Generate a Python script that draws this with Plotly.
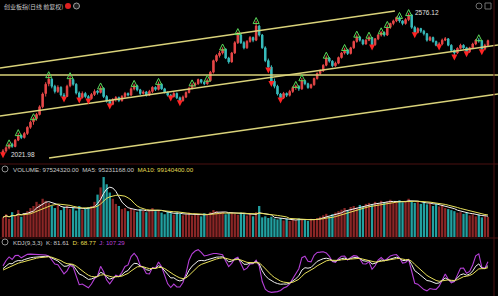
import plotly.graph_objects as go
import pandas as pd
import numpy as np

# ---------------- data ----------------
open_ = [2028, 2038, 2050, 2064, 2055, 2080, 2098, 2090, 2106, 2130,
         2152, 2164, 2180, 2210, 2262, 2300, 2318, 2290, 2270, 2286,
         2256, 2250, 2292, 2316, 2298, 2264, 2246, 2262, 2250, 2242,
         2258, 2272, 2266, 2282, 2250, 2232, 2220, 2238, 2246, 2234,
         2250, 2262, 2256, 2280, 2292, 2276, 2262, 2268, 2256, 2270,
         2286, 2278, 2298, 2280, 2266, 2255, 2250, 2262, 2245, 2234,
         2248, 2266, 2282, 2295, 2300, 2316, 2306, 2300, 2312, 2345,
         2390, 2410, 2420, 2435, 2400, 2385, 2420, 2460, 2490, 2460,
         2440, 2465, 2480, 2470, 2525, 2490, 2440, 2390, 2365, 2310,
         2290, 2260, 2245, 2262, 2255, 2270, 2285, 2290, 2280, 2312,
         2300, 2285, 2296, 2320, 2340, 2350, 2372, 2400, 2388, 2370,
         2380, 2402, 2420, 2432, 2418, 2440, 2465, 2482, 2470, 2455,
         2470, 2480, 2452, 2475, 2490, 2500, 2490, 2520, 2535, 2545,
         2558, 2545, 2535, 2550, 2568, 2520, 2500, 2515, 2505, 2495,
         2470, 2480, 2465, 2450, 2455, 2470, 2475, 2450, 2430, 2420,
         2438, 2450, 2440, 2425, 2440, 2455, 2470, 2468, 2435, 2450]
close = [2038, 2050, 2062, 2056, 2080, 2098, 2090, 2106, 2130, 2150,
         2164, 2180, 2210, 2260, 2298, 2318, 2290, 2270, 2286, 2256,
         2250, 2290, 2316, 2298, 2264, 2246, 2262, 2250, 2242, 2258,
         2270, 2266, 2282, 2250, 2232, 2220, 2238, 2246, 2234, 2250,
         2262, 2256, 2280, 2292, 2276, 2262, 2268, 2256, 2270, 2286,
         2278, 2298, 2280, 2266, 2255, 2250, 2262, 2245, 2234, 2248,
         2266, 2282, 2295, 2300, 2316, 2306, 2300, 2312, 2345, 2390,
         2410, 2420, 2435, 2400, 2385, 2420, 2460, 2490, 2460, 2440,
         2465, 2480, 2470, 2525, 2490, 2440, 2390, 2365, 2310, 2290,
         2260, 2245, 2262, 2255, 2270, 2285, 2290, 2280, 2312, 2300,
         2285, 2296, 2320, 2340, 2350, 2372, 2400, 2388, 2370, 2380,
         2402, 2420, 2432, 2418, 2440, 2465, 2482, 2470, 2455, 2470,
         2480, 2452, 2475, 2490, 2500, 2490, 2520, 2535, 2545, 2558,
         2545, 2535, 2550, 2568, 2520, 2500, 2515, 2505, 2495, 2470,
         2480, 2465, 2450, 2455, 2470, 2475, 2450, 2430, 2420, 2438,
         2450, 2440, 2425, 2440, 2455, 2470, 2468, 2435, 2450, 2468]
high = [2045, 2056, 2068, 2070, 2084, 2108, 2102, 2112, 2134, 2156,
        2170, 2186, 2216, 2266, 2306, 2334, 2322, 2296, 2294, 2290,
        2264, 2296, 2330, 2320, 2302, 2270, 2270, 2268, 2256, 2264,
        2278, 2276, 2290, 2286, 2256, 2240, 2244, 2252, 2250, 2256,
        2268, 2266, 2286, 2300, 2296, 2280, 2274, 2272, 2276, 2290,
        2290, 2308, 2302, 2284, 2270, 2260, 2268, 2266, 2250, 2254,
        2270, 2288, 2302, 2306, 2320, 2318, 2310, 2320, 2350, 2394,
        2415, 2428, 2442, 2438, 2405, 2424, 2466, 2502, 2494, 2466,
        2470, 2486, 2484, 2545, 2530, 2494, 2446, 2398, 2372, 2320,
        2296, 2264, 2268, 2266, 2276, 2290, 2296, 2294, 2322, 2316,
        2304, 2300, 2324, 2344, 2356, 2376, 2410, 2404, 2392, 2386,
        2406, 2424, 2440, 2436, 2444, 2468, 2492, 2486, 2474, 2474,
        2488, 2482, 2478, 2494, 2505, 2504, 2530, 2538, 2550, 2562,
        2565, 2548, 2556, 2576.12, 2572, 2526, 2520, 2518, 2510, 2498,
        2486, 2484, 2468, 2462, 2476, 2482, 2478, 2454, 2434, 2442,
        2456, 2454, 2444, 2444, 2460, 2474, 2478, 2470, 2456, 2472]
low = [2021.98, 2032, 2044, 2050, 2052, 2076, 2084, 2086, 2100, 2124,
       2140, 2156, 2176, 2204, 2250, 2290, 2282, 2262, 2264, 2250,
       2240, 2248, 2286, 2292, 2258, 2236, 2242, 2244, 2232, 2238,
       2252, 2258, 2262, 2244, 2226, 2212, 2216, 2230, 2228, 2230,
       2244, 2250, 2252, 2274, 2270, 2256, 2258, 2250, 2252, 2264,
       2272, 2274, 2276, 2262, 2250, 2244, 2246, 2240, 2225, 2230,
       2244, 2262, 2278, 2288, 2296, 2300, 2294, 2296, 2308, 2340,
       2384, 2402, 2414, 2396, 2378, 2382, 2416, 2455, 2455, 2434,
       2436, 2460, 2462, 2466, 2484, 2436, 2384, 2353, 2300, 2282,
       2254, 2236, 2240, 2248, 2250, 2264, 2276, 2272, 2276, 2294,
       2280, 2280, 2292, 2316, 2334, 2346, 2368, 2382, 2364, 2366,
       2376, 2398, 2414, 2412, 2414, 2436, 2460, 2464, 2450, 2452,
       2466, 2443, 2448, 2470, 2484, 2484, 2486, 2514, 2528, 2540,
       2538, 2528, 2530, 2544, 2514, 2490, 2496, 2498, 2488, 2464,
       2466, 2460, 2446, 2443, 2450, 2466, 2446, 2424, 2404, 2416,
       2434, 2436, 2416, 2420, 2436, 2450, 2460, 2424, 2430, 2446]
# volume in millions of shares
volume = [95, 110, 88, 120, 105, 130, 98, 115, 125, 140,
          150, 170, 160, 185, 175, 165, 150, 140, 155, 130,
          145, 150, 135, 140, 128, 150, 132, 138, 145, 150,
          170, 205, 240, 290, 255, 215, 185, 160, 150, 135,
          140, 125, 138, 130, 122, 135, 128, 120, 132, 140,
          125, 130, 118, 110, 122, 115, 108, 120, 112, 105,
          110, 118, 104, 112, 106, 100, 115, 108, 120, 130,
          125, 118, 122, 110, 116, 120, 112, 108, 118, 110,
          104, 112, 100, 120, 150, 95, 100, 92, 98, 90,
          85, 92, 80, 88, 78, 84, 80, 90, 86, 82,
          78, 88, 84, 92, 98, 105, 112, 100, 110, 118,
          125, 132, 140, 128, 145, 150, 142, 155, 148, 160,
          165, 158, 170, 162, 175, 168, 172, 180, 165, 170,
          178, 168, 175, 185, 170, 165, 172, 160, 168, 158,
          165, 150, 160, 148, 155, 140, 135, 130, 125, 118,
          120, 112, 118, 105, 110, 100, 108, 95, 102, 97.52432]

green_idx = [2, 5, 10, 15, 22, 32, 43, 51, 62, 67, 72, 77, 83, 96, 98, 106,
             112, 116, 120, 124, 126, 130, 133, 156]
red_idx = [0, 20, 25, 28, 35, 55, 58, 87, 88, 91, 121, 135, 143, 148, 152, 157]

# trend lines: (start index, start price, end index, end price)
trend_lines = [
    (-0.98, 2361.3, 128.5, 2583.6),   # upper channel
    (-0.98, 2334.0, 162.3, 2334.0),   # horizontal
    (-0.98, 2174.1, 162.3, 2451.0),   # middle channel
    (15.1, 2010.3, 162.3, 2259.9),    # lower channel
]

title_text = "创业板指(日线 前复权)"
vol_label = ("VOLUME: 97524320.00  MA5: 95231168.00  ", "MA10: 99140400.00")
kdj_label = ("KDJ(9,3,3)  K: 81.61  ", "D: 68.77  ", "J: 107.29")
high_label = "2576.12"
low_label = "2021.98"

# ---------------- derived ----------------
idx = list(range(len(close)))
s_close = pd.Series(close, dtype=float)
s_high = pd.Series(high, dtype=float)
s_low = pd.Series(low, dtype=float)
s_vol = pd.Series(volume, dtype=float)
ma5 = s_vol.rolling(5, min_periods=1).mean()
ma10 = s_vol.rolling(10, min_periods=1).mean()

llv = s_low.rolling(9, min_periods=1).min()
hhv = s_high.rolling(9, min_periods=1).max()
rsv = ((s_close - llv) / (hhv - llv) * 100).fillna(50)
K, D = [], []
k = d = 50.0
for r in rsv:
    k = 2 / 3 * k + r / 3
    d = 2 / 3 * d + k / 3
    K.append(k)
    D.append(d)
K = np.array(K)
D = np.array(D)
J = 3 * K - 2 * D

UP = "#e84848"
DOWN = "#38bcbc"
vol_colors = ["#8a2626" if c >= o else "#22a0a0" for o, c in zip(open_, close)]

fig = go.Figure()

fig.add_trace(go.Candlestick(
    x=idx, open=open_, high=high, low=low, close=close,
    increasing=dict(line=dict(color=UP, width=1), fillcolor=UP),
    decreasing=dict(line=dict(color=DOWN, width=1), fillcolor=DOWN),
    whiskerwidth=0, yaxis="y", xaxis="x", showlegend=False, hoverinfo="skip"))

for (x0, y0, x1, y1) in trend_lines:
    fig.add_trace(go.Scatter(x=[x0, x1], y=[y0, y1], mode="lines",
                             line=dict(color="#d9d27a", width=1.3),
                             yaxis="y", xaxis="x", showlegend=False, hoverinfo="skip"))

fig.add_trace(go.Scatter(
    x=green_idx, y=[high[i] + 13 for i in green_idx], mode="markers",
    marker=dict(symbol="arrow-up-open", size=6, color="#5ad85a", line=dict(width=1, color="#5ad85a")),
    yaxis="y", xaxis="x", showlegend=False, hoverinfo="skip"))
fig.add_trace(go.Scatter(
    x=red_idx, y=[low[i] - 13 for i in red_idx], mode="markers",
    marker=dict(symbol="arrow-down", size=6, color="#ff2424", line=dict(width=0)),
    yaxis="y", xaxis="x", showlegend=False, hoverinfo="skip"))

# volume
fig.add_trace(go.Bar(x=idx, y=volume, marker=dict(color=vol_colors, line=dict(width=0)),
                     width=0.75, yaxis="y2", xaxis="x", showlegend=False, hoverinfo="skip"))
fig.add_trace(go.Scatter(x=idx, y=ma5, mode="lines", line=dict(color="#f0f0f0", width=1),
                         yaxis="y2", xaxis="x", showlegend=False, hoverinfo="skip"))
fig.add_trace(go.Scatter(x=idx, y=ma10, mode="lines", line=dict(color="#e8e05a", width=1),
                         yaxis="y2", xaxis="x", showlegend=False, hoverinfo="skip"))

# KDJ
fig.add_trace(go.Scatter(x=idx, y=J, mode="lines", line=dict(color="#b640d8", width=1.1),
                         yaxis="y3", xaxis="x", showlegend=False, hoverinfo="skip"))
fig.add_trace(go.Scatter(x=idx, y=K, mode="lines", line=dict(color="#f0f0f0", width=1),
                         yaxis="y3", xaxis="x", showlegend=False, hoverinfo="skip"))
fig.add_trace(go.Scatter(x=idx, y=D, mode="lines", line=dict(color="#e8e05a", width=1),
                         yaxis="y3", xaxis="x", showlegend=False, hoverinfo="skip"))

W, H = 498, 296
def py(p):
    return 1 - p / H
def px(p):
    return p / W

hidden = dict(showticklabels=False, showgrid=False, zeroline=False, showline=False, ticks="")

fig.update_layout(
    width=W, height=H, margin=dict(l=0, r=0, t=0, b=0),
    paper_bgcolor="#000000", plot_bgcolor="#000000",
    bargap=0.2,
    xaxis=dict(range=[-0.98, 162.3], rangeslider=dict(visible=False), **hidden),
    yaxis=dict(domain=[py(164), 1], range=[1986.9, 2626.5], **hidden),
    yaxis2=dict(domain=[py(237), py(176)], range=[0, 295], anchor="x", **hidden),
    yaxis3=dict(domain=[0, py(247)], range=[-30, 125], anchor="x", **hidden),
    font=dict(family="Liberation Sans, Noto Sans CJK SC", color="#d0d0d0"),
)

# separators
line_col = "#4a1010"
fig.add_shape(type="line", xref="paper", yref="paper", x0=0, x1=1, y0=py(164), y1=py(164),
              line=dict(color=line_col, width=1))
fig.add_shape(type="line", xref="paper", yref="paper", x0=0, x1=1, y0=py(238), y1=py(238),
              line=dict(color=line_col, width=1))
fig.add_shape(type="line", xref="paper", yref="paper", x0=px(494), x1=px(494), y0=0, y1=1,
              line=dict(color=line_col, width=1))

ann = []
ann.append(dict(x=px(2), y=py(6), xref="paper", yref="paper", xanchor="left", yanchor="middle",
                text=title_text, showarrow=False,
                font=dict(size=6, color="#c8c8c8", family="Noto Sans CJK SC")))
fig.add_shape(type="circle", xref="paper", yref="paper", x0=px(65), x1=px(71), y0=py(9), y1=py(3),
              fillcolor="#e02020", line=dict(width=0))
fig.add_shape(type="circle", xref="paper", yref="paper", x0=px(73.5), x1=px(79.5), y0=py(9), y1=py(3),
              fillcolor="#202020", line=dict(color="#a0a0a0", width=1))
# top right icons
fig.add_shape(type="circle", xref="paper", yref="paper", x0=px(476), x1=px(482), y0=py(9), y1=py(3),
              fillcolor="#000000", line=dict(color="#707070", width=1))
fig.add_shape(type="rect", xref="paper", yref="paper", x0=px(485), x1=px(491), y0=py(9), y1=py(3),
              fillcolor="#000000", line=dict(color="#707070", width=1))

ann.append(dict(x=px(10.5), y=py(169), xref="paper", yref="paper", xanchor="left", yanchor="middle",
                text="<span style='color:#c8c8c8'>" + vol_label[0] + "</span><span style='color:#e2dc50'>" + vol_label[1] + "</span>",
                showarrow=False, font=dict(size=6.2, family="Liberation Sans")))
ann.append(dict(x=px(10.5), y=py(242), xref="paper", yref="paper", xanchor="left", yanchor="middle",
                text="<span style='color:#c8c8c8'>" + kdj_label[0] + "</span><span style='color:#e2dc50'>" + kdj_label[1] + "</span><span style='color:#b640d8'>" + kdj_label[2] + "</span>",
                showarrow=False, font=dict(size=6.2, family="Liberation Sans")))
for yy in (169, 242):
    fig.add_shape(type="circle", xref="paper", yref="paper", x0=px(2), x1=px(8), y0=py(yy + 3), y1=py(yy - 3),
                  fillcolor="#000000", line=dict(color="#909090", width=1))

ann.append(dict(x=133, y=high[133], xref="x", yref="y", xanchor="left", yanchor="middle",
                xshift=4, text=high_label, showarrow=False,
                font=dict(size=6.5, color="#e0e0e0", family="Liberation Sans")))
ann.append(dict(x=0, y=low[0], xref="x", yref="y", xanchor="left", yanchor="middle",
                xshift=6, yshift=1, text=low_label, showarrow=False,
                font=dict(size=6.5, color="#e0e0e0", family="Liberation Sans")))
fig.update_layout(annotations=ann)

fig.write_html("out.html")
